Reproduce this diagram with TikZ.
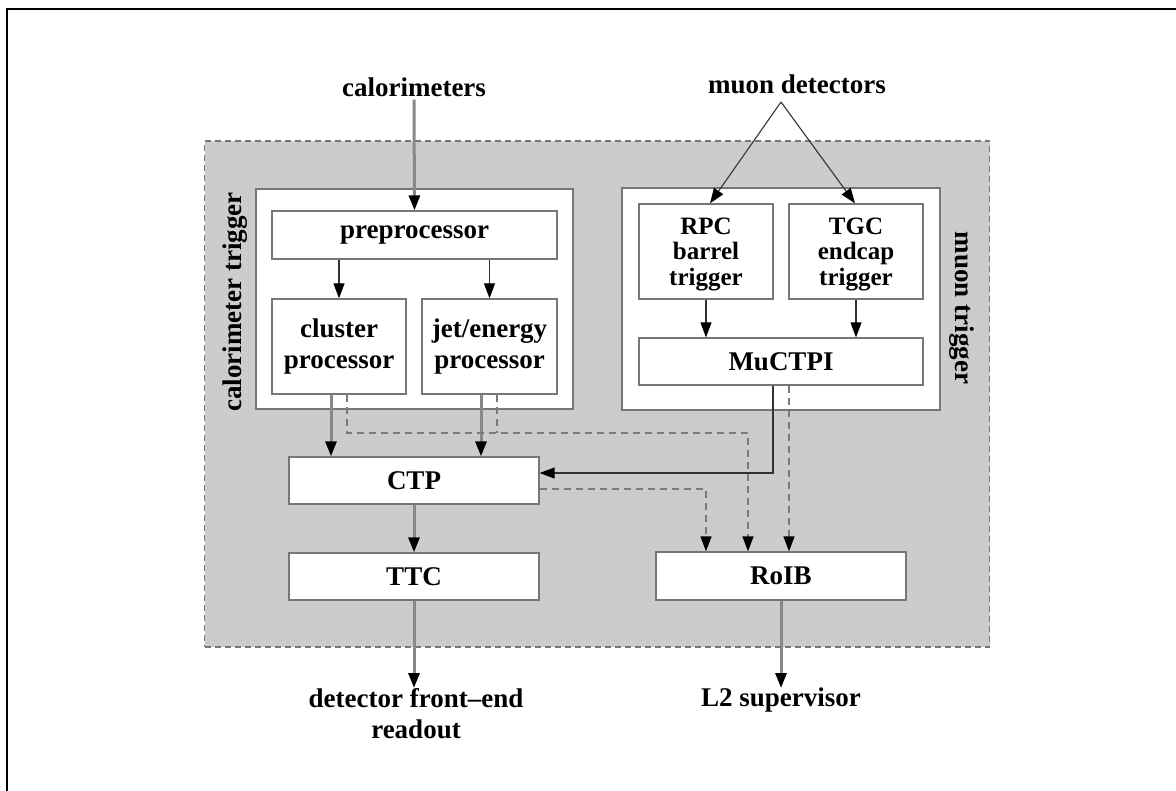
\documentclass[tikz,border=0pt]{standalone}
\usepackage{fontspec}
\setmainfont{Liberation Serif}
\usetikzlibrary{arrows.meta}
\definecolor{bggray}{HTML}{CCCCCC}
\definecolor{boxline}{HTML}{777777}
\definecolor{thickline}{HTML}{888888}
\definecolor{thinline}{HTML}{333333}
\definecolor{dashline}{HTML}{7A7A7A}
\tikzset{
  lbl/.style={font=\fontsize{27}{31}\selectfont\bfseries, inner sep=0pt, align=center},
  box/.style={draw=boxline, fill=white, line width=1.3pt, inner sep=0pt, align=center,
              font=\fontsize{27}{31}\selectfont\bfseries},
  tightbox/.style={box, font=\fontsize{25}{25.5}\selectfont\bfseries},
  tip/.style={-{Triangle[length=15pt,width=11pt,color=black]}},
  thickarrow/.style={tip, draw=thickline, line width=3pt},
  thinarrow/.style={tip, draw=thinline, line width=1.1pt},
  dasharrow/.style={draw=dashline, line width=1.3pt, dash pattern=on 7pt off 5pt},
}
\begin{document}
\begin{tikzpicture}[x=1pt,y=-1pt]
\useasboundingbox (0,0) rectangle (1176,791);
% outer frame (top and left edges)
\draw[line width=2.5pt, black] (7,791) -- (7,9) -- (1176,9);

% grey region
\node[draw=boxline, fill=bggray, line width=1.3pt, dash pattern=on 6pt off 4pt,
      minimum width=785pt, minimum height=506pt, inner sep=0pt] (region) at (597,394) {};

% group boxes
\node[box, minimum width=317pt, minimum height=220pt] (calobox) at (414.5,299) {};
\node[box, minimum width=318pt, minimum height=222pt] (muonbox) at (781,299) {};

% group labels
\node[lbl, rotate=90] (calolabel) at (235,302) {calorimeter trigger};
\node[lbl, rotate=-90] (muonlabel) at (962,308) {muon trigger};

% blocks
\node[box, minimum width=285pt, minimum height=48pt] (pre) at (414.5,235) {preprocessor};
\node[box, minimum width=134pt, minimum height=95pt] (clus) at (339,346.5) {cluster\\processor};
\node[box, minimum width=135pt, minimum height=95pt] (jet) at (489.5,346.5) {jet/energy\\processor};
\node[tightbox, minimum width=134pt, minimum height=95pt] (rpc) at (706,251.5) {\rule{0pt}{22pt}RPC\\barrel\\trigger};
\node[tightbox, minimum width=134pt, minimum height=95pt] (tgc) at (856,251.5) {\rule{0pt}{22pt}TGC\\endcap\\trigger};
\node[box, minimum width=284pt, minimum height=47pt] (muctpi) at (781,361.5) {MuCTPI};
\node[box, minimum width=250pt, minimum height=47pt] (ctp) at (414,480.5) {CTP};
\node[box, minimum width=250pt, minimum height=47pt] (ttc) at (414,576.5) {TTC};
\node[box, minimum width=250pt, minimum height=48pt] (roib) at (781,576) {RoIB};

% external labels
\node[lbl] (calo) at (414,87) {calorimeters};
\node[lbl] (muondet) at (797,84) {muon detectors};
\node[lbl, anchor=north] (fe) at (416,688) {detector front--end\\readout};
\node[lbl, anchor=north] (l2) at (781,688) {L2 supervisor};

% helper coordinates
\coordinate (muorigin) at (781,102);
\coordinate (cA) at ([xshift=-8pt]clus.south);
\coordinate (cB) at ([xshift=8pt]clus.south);
\coordinate (jA) at ([xshift=-8.5pt]jet.south);
\coordinate (jB) at ([xshift=7.5pt]jet.south);
\coordinate (hbend) at (748,433);
\coordinate (mA) at ([xshift=-8pt]muctpi.south);
\coordinate (mB) at ([xshift=8pt]muctpi.south);
\coordinate (ctpin) at ([yshift=7.5pt]ctp.east);
\coordinate (ctpout) at ([yshift=-8.5pt]ctp.east);
\coordinate (cbend) at (706,489);

% connectors
\draw[thickarrow] ([yshift=-3pt]calo.south) -- (pre.north);
\draw[thinarrow] (pre.south -| clus.north) -- (clus.north);
\draw[thinarrow] (pre.south -| jet.north) -- (jet.north);
\draw[thinarrow] (muorigin) -- ([xshift=4pt]rpc.north);
\draw[thinarrow] (muorigin) -- ([xshift=-1pt]tgc.north);
\draw[thinarrow] (rpc.south) -- (rpc.south |- muctpi.north);
\draw[thinarrow] (tgc.south) -- (tgc.south |- muctpi.north);

\draw[thickarrow] (cA) -- (cA |- ctp.north);
\draw[thickarrow] (jA) -- (jA |- ctp.north);
\draw[dasharrow] (jB) -- (jB |- hbend);
\draw[dasharrow, tip] (cB) -- (cB |- hbend) -- (hbend) -- (hbend |- roib.north);

\draw[thinarrow] (mA) -- (mA |- ctpin) -- (ctpin);
\draw[dasharrow, tip] (mB) -- (mB |- roib.north);
\draw[dasharrow, tip] (ctpout) -- (cbend) -- (cbend |- roib.north);

\draw[thickarrow] (ctp.south) -- (ttc.north);
\draw[thickarrow] (ttc.south) -- (ttc.south |- fe.north);
\draw[thickarrow] (roib.south) -- (l2.north);
\end{tikzpicture}
\end{document}
